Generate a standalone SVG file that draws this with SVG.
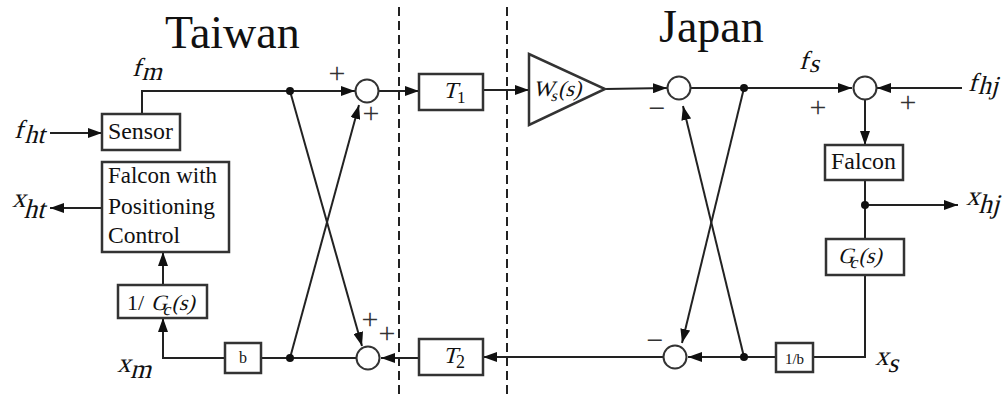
<svg xmlns="http://www.w3.org/2000/svg" width="1007" height="398" viewBox="0 0 1007 398">
<style>
.ln{fill:none;stroke:#222;stroke-width:2}
.bx{fill:#fff;stroke:#333;stroke-width:2.5}
.sum{fill:#fff;stroke:#333;stroke-width:2}
.dash{fill:none;stroke:#222;stroke-width:2;stroke-dasharray:9 5}
.t{font-family:"Liberation Serif","Times New Roman",serif;fill:#111}
.sg{font-family:"Liberation Serif","Times New Roman",serif;font-size:30px;fill:#333;text-anchor:middle}
.dot{fill:#111}
</style>
<defs>
<marker id="ah" markerUnits="userSpaceOnUse" markerWidth="14" markerHeight="10" refX="14" refY="5" orient="auto">
<path d="M0,0 L14,5 L0,10 z" fill="#111"/>
</marker>
</defs>
<rect width="1007" height="398" fill="#fff"/>

<g id="dividers">
<line class="dash" x1="399" y1="7" x2="399" y2="398"/>
<line class="dash" x1="507" y1="7" x2="507" y2="398"/>
</g>

<g id="titles">
<text class="t" x="165" y="48" font-size="46">Taiwan</text>
<text class="t" x="659" y="42" font-size="46">Japan</text>
</g>

<g id="connectors">
<path class="ln" d="M142,114 V91 H355" marker-end="url(#ah)"/>
<path class="ln" d="M379,91 H419" marker-end="url(#ah)"/>
<path class="ln" d="M483,90 H529" marker-end="url(#ah)"/>
<path class="ln" d="M605,89 L667,88" marker-end="url(#ah)"/>
<path class="ln" d="M691,88 H852" marker-end="url(#ah)"/>
<path class="ln" d="M962,88 H877" marker-end="url(#ah)"/>
<path class="ln" d="M865,100 V145" marker-end="url(#ah)"/>
<path class="ln" d="M865,180 V239"/>
<path class="ln" d="M865,205 H958" marker-end="url(#ah)"/>
<path class="ln" d="M865,275 V357 H813"/>
<path class="ln" d="M776,357 H688" marker-end="url(#ah)"/>
<path class="ln" d="M663,357 H483" marker-end="url(#ah)"/>
<path class="ln" d="M419,358 H381" marker-end="url(#ah)"/>
<path class="ln" d="M356,358 H261"/>
<path class="ln" d="M225,358 H163 V318" marker-end="url(#ah)"/>
<path class="ln" d="M163,285 V252" marker-end="url(#ah)"/>
<path class="ln" d="M102,208 H50" marker-end="url(#ah)"/>
<path class="ln" d="M50,133 H102" marker-end="url(#ah)"/>
<path class="ln" d="M290,91 L362,346" marker-end="url(#ah)"/>
<path class="ln" d="M290,358 L359,105" marker-end="url(#ah)"/>
<path class="ln" d="M744,88 L682,343" marker-end="url(#ah)"/>
<path class="ln" d="M744,357 L683,106" marker-end="url(#ah)"/>
<circle class="dot" cx="290" cy="91" r="4"/>
<circle class="dot" cx="290" cy="358" r="4"/>
<circle class="dot" cx="744" cy="88" r="4"/>
<circle class="dot" cx="744" cy="357" r="4"/>
<circle class="dot" cx="865" cy="205" r="4"/>
</g>

<g id="sensor">
<rect class="bx" x="102" y="114" width="78" height="36"/>
<text class="t" x="108" y="139" font-size="23" textLength="65" lengthAdjust="spacingAndGlyphs">Sensor</text>
</g>

<g id="falcon-taiwan">
<rect class="bx" x="102" y="162" width="127" height="90"/>
<text class="t" x="108" y="183" font-size="23" textLength="109" lengthAdjust="spacingAndGlyphs">Falcon with</text>
<text class="t" x="108" y="214" font-size="23" textLength="107" lengthAdjust="spacingAndGlyphs">Positioning</text>
<text class="t" x="108" y="243" font-size="23" textLength="72" lengthAdjust="spacingAndGlyphs">Control</text>
</g>

<g id="inv-gc">
<rect class="bx" x="118" y="285" width="89" height="33"/>
<text class="t" x="127" y="310" font-size="22">1/</text>
<text class="t" font-size="22" transform="translate(151,310) skewX(-15)">G<tspan font-size="17" dx="-3" dy="5">c</tspan><tspan dy="-5">(s)</tspan></text>
</g>

<g id="b-box">
<rect class="bx" x="225" y="343" width="36" height="30"/>
<text class="t" x="243" y="363" font-size="16" text-anchor="middle">b</text>
</g>

<g id="sum-tw-top">
<circle class="sum" cx="367" cy="91" r="11.5"/>
<text class="sg" x="337" y="83">+</text>
<text class="sg" x="371" y="123">+</text>
</g>

<g id="sum-tw-bottom">
<circle class="sum" cx="368" cy="358" r="11.5"/>
<text class="sg" x="370" y="329">+</text>
<text class="sg" x="387" y="343">+</text>
</g>

<g id="t1">
<rect class="bx" x="419" y="74" width="64" height="36"/>
<text class="t" font-size="23" transform="translate(443,98) skewX(-15)">T</text>
<text class="t" x="457" y="103" font-size="17">1</text>
</g>

<g id="t2">
<rect class="bx" x="419" y="339" width="64" height="36"/>
<text class="t" font-size="23" transform="translate(443,363) skewX(-15)">T</text>
<text class="t" x="456" y="368" font-size="18">2</text>
</g>

<g id="ws">
<polygon points="529,54 529,125 605,89" fill="#fff" stroke="#333" stroke-width="2.5"/>
<text class="t" font-size="22" transform="translate(533,96) skewX(-15)">W<tspan font-size="16" dx="-2" dy="5">s</tspan><tspan dy="-5">(s)</tspan></text>
</g>

<g id="sum-jp-top">
<circle class="sum" cx="679" cy="88" r="11.5"/>
<text class="sg" x="657" y="118">−</text>
</g>

<g id="sum-jp-bottom">
<circle class="sum" cx="675" cy="357" r="11.5"/>
<text class="sg" x="655" y="350">−</text>
</g>

<g id="sum-jp-right">
<circle class="sum" cx="865" cy="88" r="11.5"/>
<text class="sg" x="818" y="117">+</text>
<text class="sg" x="908" y="112">+</text>
</g>

<g id="falcon-japan">
<rect class="bx" x="825" y="145" width="78" height="35"/>
<text class="t" x="831" y="169" font-size="23" textLength="65" lengthAdjust="spacingAndGlyphs">Falcon</text>
</g>

<g id="gc">
<rect class="bx" x="826" y="239" width="78" height="36"/>
<text class="t" font-size="22" transform="translate(838,263) skewX(-15)">G<tspan font-size="17" dx="-3" dy="5">c</tspan><tspan dy="-5">(s)</tspan></text>
</g>

<g id="inv-b">
<rect class="bx" x="776" y="343" width="37" height="29"/>
<text class="t" x="794.5" y="364" font-size="15" text-anchor="middle">1/b</text>
</g>

<g id="labels">
<text class="t" font-size="26" transform="translate(132,76) skewX(-15)">f<tspan dx="2" dy="4">m</tspan></text>
<text class="t" font-size="26" transform="translate(14,138) skewX(-15)">f<tspan dx="3" dy="5">ht</tspan></text>
<text class="t" font-size="27" transform="translate(12,207) skewX(-15)">x<tspan dx="1" dy="11">ht</tspan></text>
<text class="t" font-size="27" transform="translate(117,372) skewX(-15)">x<tspan dx="1" dy="6">m</tspan></text>
<text class="t" font-size="26" transform="translate(799,69) skewX(-15)">f<tspan dx="2" dy="3">s</tspan></text>
<text class="t" font-size="26" transform="translate(968,91) skewX(-15)">f<tspan dx="2" dy="3">hj</tspan></text>
<text class="t" font-size="27" transform="translate(966,205) skewX(-15)">x<tspan dx="1" dy="8">hj</tspan></text>
<text class="t" font-size="27" transform="translate(875,365) skewX(-15)">x<tspan dx="1" dy="7">s</tspan></text>
</g>
</svg>
